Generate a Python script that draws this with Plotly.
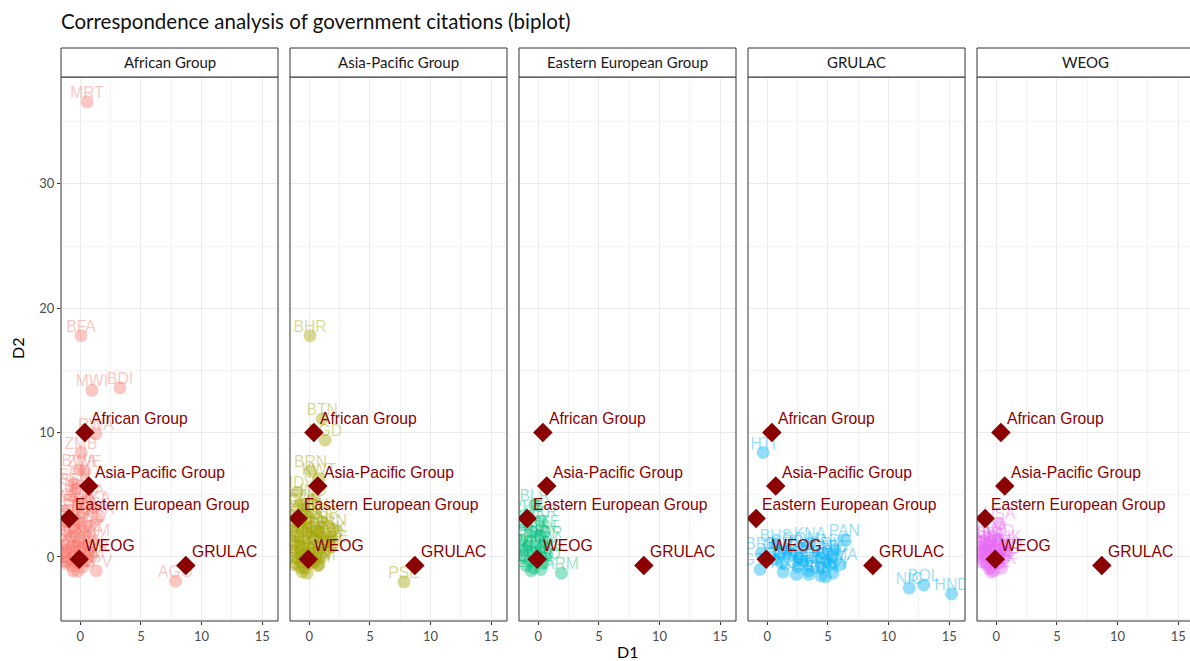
import plotly.graph_objects as go

TITLE = "Correspondence analysis of government citations (biplot)"

# Facet panels (regional groups) and their colours
PANELS = ["African Group", "Asia-Pacific Group", "Eastern European Group", "GRULAC", "WEOG"]
PANEL_COLORS = ["#F8766D", "#A3A500", "#00BF7D", "#00B0F6", "#E76BF3"]

# Column coordinates (cited groups), repeated in every panel
GROUP_LABELS = ["African Group", "Asia-Pacific Group", "Eastern European Group", "GRULAC", "WEOG"]
GROUP_D1 = [0.37, 0.69, -0.93, 8.70, -0.10]
GROUP_D2 = [10.00, 5.70, 3.10, -0.69, -0.19]

# Row coordinates (citing governments), one set per regional group
AFR_CODES = ["MRT", "BFA", "MWI", "BDI", "RWA", "ZMB", "BWA", "ZWE", "SLE", "SEN",
             "LBR", "NGA", "GHA", "UGA", "KEN", "TZA", "ETH", "CMR", "MLI", "NER",
             "TCD", "COD", "SDN", "MOZ", "MDG", "NAM", "ZAF", "LSO", "CIV", "TGO",
             "BEN", "GIN", "GMB", "EGY", "TUN", "MAR", "DZA", "LBY", "SOM", "DJI",
             "CAF", "GAB", "COG", "CPV", "AGO"]
AFR_D1 = [0.55, 0.05, 0.95, 3.27, 1.28, 0.05, -0.10, 0.35, -0.40, -0.50,
          -0.80, 0.60, -0.20, 1.10, -1.00, 0.30, -0.60, 1.40, -1.20, 0.00,
          0.80, -0.40, -1.10, 0.40, -0.70, 1.00, -0.20, -1.30, 0.20, -0.90,
          0.60, -0.50, -1.40, 0.10, -1.00, 0.90, -0.30, -1.20, 0.50, -0.70,
          0.20, -0.60, -0.20, 1.30, 7.85]
AFR_D2 = [36.60, 17.80, 13.40, 13.60, 9.90, 8.40, 7.00, 6.90, 5.50, 5.90,
          4.90, 4.60, 4.30, 4.00, 3.80, 3.60, 3.30, 3.10, 2.90, 2.70,
          2.50, 2.20, 2.00, 1.80, 1.60, 1.40, 1.20, 1.00, 0.80, 0.60,
          0.40, 0.20, 0.00, -0.10, -0.20, 0.10, -0.40, -0.50, -0.30, -0.70,
          -0.80, -1.10, -1.15, -1.10, -1.95]

ASP_CODES = ["BHR", "BTN", "BGD", "BRN", "KWT", "MDV", "FJI", "NPL", "IRN", "PAK",
             "ARE", "IND", "CHN", "IDN", "JPN", "KOR", "LKA", "MYS", "PHL", "THA",
             "VNM", "MMR", "LAO", "MNG", "KAZ", "UZB", "TJK", "KGZ", "TKM", "AFG",
             "IRQ", "JOR", "LBN", "SYR", "SAU", "QAT", "OMN", "YEM", "SGP", "TLS",
             "PNG", "WSM", "TON", "VUT", "SLB", "PLW", "NRU", "MHL", "FSM", "CYP",
             "PSE"]
ASP_D1 = [0.05, 1.05, 1.30, 0.10, 0.80, -1.00, -0.80, -1.30, 2.00, 1.80,
          1.90, 0.30, -0.40, 0.50, -0.20, 1.10, -0.90, 0.20, -0.60, 0.90,
          -1.10, 0.40, -0.30, 1.20, -0.80, 0.00, -1.30, 0.60, -0.50, 1.00,
          -1.00, 0.30, -0.70, 0.00, -1.30, 0.70, -0.40, -0.60, -0.20, -0.20,
          0.80, -1.20, 1.40, -0.60, 1.60, -1.40, 0.40, -0.10, 0.80, -0.80,
          7.80]
ASP_D2 = [17.80, 11.10, 9.40, 6.90, 6.30, 5.20, 4.20, 3.30, 2.20, 1.60,
          0.90, 4.60, 3.90, 3.50, 3.00, 2.80, 2.60, 2.40, 2.10, 1.90,
          1.70, 1.50, 1.30, 1.10, 0.90, 0.70, 0.50, 0.40, 0.20, 0.00,
          -0.10, -0.20, -0.40, -0.50, -0.60, -0.70, -0.90, -1.20, -1.30, 0.10,
          2.00, 1.20, 0.60, 3.40, 1.30, 2.20, -0.40, 1.90, -0.60, -0.80,
          -2.00]

EEG_CODES = ["BLR", "RUS", "UKR", "POL", "CZE", "SVK", "HUN", "ROU", "BGR", "SRB",
             "HRV", "SVN", "BIH", "MNE", "MKD", "ALB", "MDA", "GEO", "AZE", "LTU",
             "LVA", "EST", "ARM"]
EEG_D1 = [-0.30, -0.90, 0.20, -1.20, 0.50, -0.50, 0.10, -1.40, 0.60, -0.80,
          0.30, -1.10, -0.20, 0.70, -1.30, 0.00, -0.70, 0.40, -1.00, -0.40,
          0.20, -0.60, 1.90]
EEG_D2 = [4.20, 3.30, 2.90, 2.60, 2.10, 2.00, 1.70, 1.40, 1.20, 1.00,
          0.80, 0.60, 0.40, 0.20, 0.10, -0.10, -0.30, -0.50, -0.70, -0.90,
          -1.00, -1.10, -1.30]

GRU_CODES = ["HTI", "PAN", "KNA", "ARG", "BHS", "BRB", "GTM", "BRA", "MEX", "CHL",
             "COL", "PER", "VEN", "ECU", "URY", "PRY", "CUB", "DOM", "CRI", "SLV",
             "JAM", "TTO", "GUY", "SUR", "BLZ", "DMA", "GRD", "LCA", "VCT", "ATG",
             "NIC", "BOL", "HND"]
GRU_D1 = [-0.35, 6.35, 3.50, 5.60, 0.70, -0.50, -0.60, 1.20, 2.00, 2.50,
          3.00, 3.40, 4.00, 4.40, 4.80, 5.20, 1.60, 2.80, 4.60, 3.40,
          0.60, 1.30, 5.40, 4.40, 1.00, 6.00, 2.40, 2.60, 4.90, 5.40,
          11.70, 12.90, 15.20]
GRU_D2 = [8.40, 1.40, 1.10, 0.60, 1.00, 0.30, -1.00, -0.50, 0.20, -0.80,
          -0.30, -1.10, 0.00, -0.90, -1.60, -0.60, 0.50, 0.70, 0.30, -1.40,
          -0.20, -1.20, -1.30, -1.50, 0.30, -0.60, -1.40, -0.10, -0.30, 0.10,
          -2.50, -2.25, -2.97]

WEO_CODES = ["USA", "GBR", "NLD", "FRA", "DEU", "ITA", "ESP", "PRT", "CAN", "AUS",
             "NZL", "NOR", "SWE", "FIN", "DNK", "ISL", "IRL", "BEL", "LUX", "AUT",
             "CHE", "GRC", "MLT", "MCO", "AND", "LIE", "SMR", "ISR", "TUR"]
WEO_D1 = [0.25, -0.85, 0.20, -0.40, -1.20, 0.50, -0.70, 0.10, -1.00, 0.60,
          -0.30, -1.30, 0.30, -0.80, 0.70, -1.10, -0.10, -0.50, 0.40, -0.60,
          -0.20, 0.00, -0.60, -1.40, 0.80, -0.40, -0.70, 0.20, -0.90]
WEO_D2 = [2.70, 1.10, 1.40, 1.60, 0.80, 0.60, 0.40, 0.20, 0.00, -0.10,
          -0.20, -0.40, -0.50, -0.60, 0.90, 1.30, 0.60, -0.80, -0.90, -0.95,
          -1.10, -0.30, 1.00, 0.30, 0.30, -1.20, -0.20, 0.00, 0.50]

ROWS = [
    (AFR_CODES, AFR_D1, AFR_D2),
    (ASP_CODES, ASP_D1, ASP_D2),
    (EEG_CODES, EEG_D1, EEG_D2),
    (GRU_CODES, GRU_D1, GRU_D2),
    (WEO_CODES, WEO_D1, WEO_D2),
]

# ---- layout geometry (pixels) ----
W, H = 1190, 661
ML, MR, MT, MB = 61, 0, 48, 40
PLOT_W = W - ML - MR
PLOT_H = H - MT - MB
PANEL_W, PANEL_GAP, STRIP_H = 217, 12, 29
PX_PER_UNIT = 12.12
X_MIN = -1.6
Y_RANGE = [-5.15, 38.6]
PANEL_TOP = (PLOT_H - STRIP_H) / PLOT_H

TEXT_FONT = "Lato, 'Source Sans Pro', 'Noto Sans', sans-serif"
LABEL_FONT = "'Liberation Sans', Arial, sans-serif"
DARK_RED = "#8B0000"


def rgba(hex_color, alpha):
    h = hex_color.lstrip("#")
    r, g, b = int(h[0:2], 16), int(h[2:4], 16), int(h[4:6], 16)
    return f"rgba({r},{g},{b},{alpha})"


fig = go.Figure()
layout = {}
shapes = []
annotations = []

for i, panel in enumerate(PANELS):
    suf = "" if i == 0 else str(i + 1)
    xa, ya = "x" + suf, "y" + suf
    left_px = i * (PANEL_W + PANEL_GAP)
    right_px = min(left_px + PANEL_W, PLOT_W)
    visible_w = right_px - left_px
    x_max = X_MIN + visible_w / PX_PER_UNIT

    layout["xaxis" + suf] = dict(
        domain=[left_px / PLOT_W, right_px / PLOT_W],
        anchor=ya, range=[X_MIN, x_max],
        tick0=0, dtick=5, ticks="outside", ticklen=3, tickwidth=1,
        tickcolor="#333333", showline=False, zeroline=False,
        showgrid=True, gridcolor="#EBEBEB", gridwidth=1.1,
        minor=dict(tick0=0, dtick=2.5, showgrid=True, gridcolor="#F3F3F3",
                   gridwidth=0.8, ticks=""),
        tickfont=dict(family=TEXT_FONT, size=13, color="#4D4D4D"),
        fixedrange=True,
    )
    layout["yaxis" + suf] = dict(
        domain=[0, PANEL_TOP], anchor=xa, range=Y_RANGE,
        tick0=0, dtick=10, ticks="outside" if i == 0 else "",
        ticklen=3, tickwidth=1, tickcolor="#333333",
        showticklabels=(i == 0), showline=False, zeroline=False,
        showgrid=True, gridcolor="#EBEBEB", gridwidth=1.1,
        minor=dict(tick0=0, dtick=5, showgrid=True, gridcolor="#F3F3F3",
                   gridwidth=0.8, ticks=""),
        tickfont=dict(family=TEXT_FONT, size=13, color="#4D4D4D"),
        fixedrange=True,
    )

    codes, d1, d2 = ROWS[i]
    color = PANEL_COLORS[i]

    # citing governments
    fig.add_trace(go.Scatter(
        x=d1, y=d2, mode="markers", xaxis=xa, yaxis=ya,
        marker=dict(size=13, color=rgba(color, 0.42), line=dict(width=0)),
        cliponaxis=True, showlegend=False, hoverinfo="skip",
    ))
    fig.add_trace(go.Scatter(
        x=d1, y=d2, mode="text", text=codes, textposition="top center",
        xaxis=xa, yaxis=ya,
        textfont=dict(family=LABEL_FONT, size=15.7, color=rgba(color, 0.42)),
        cliponaxis=True, showlegend=False, hoverinfo="skip",
    ))
    # cited groups
    fig.add_trace(go.Scatter(
        x=GROUP_D1, y=GROUP_D2, mode="markers", xaxis=xa, yaxis=ya,
        marker=dict(symbol="diamond", size=15, color=DARK_RED, line=dict(width=0)),
        cliponaxis=True, showlegend=False, hoverinfo="skip",
    ))
    for lab, gx, gy in zip(GROUP_LABELS, GROUP_D1, GROUP_D2):
        annotations.append(dict(
            x=gx, y=gy, xref=xa, yref=ya, text=lab, showarrow=False,
            xanchor="left", yanchor="middle", xshift=4, yshift=14,
            font=dict(family=LABEL_FONT, size=15.7, color=DARK_RED),
        ))

    # panel border and facet strip
    full_w = PANEL_W / visible_w
    shapes.append(dict(
        type="rect", xref=xa + " domain", yref=ya + " domain",
        x0=0, x1=full_w, y0=0, y1=1, line=dict(color="#333333", width=1),
        fillcolor="rgba(0,0,0,0)", layer="above",
    ))
    shapes.append(dict(
        type="rect", xref=xa + " domain", yref="paper",
        x0=0, x1=full_w, y0=PANEL_TOP, y1=1, line=dict(color="#333333", width=1),
        fillcolor="white", layer="above",
    ))
    annotations.append(dict(
        x=full_w / 2, y=(PANEL_TOP + 1) / 2, xref=xa + " domain", yref="paper",
        text=panel, showarrow=False, xanchor="center", yanchor="middle",
        font=dict(family=TEXT_FONT, size=15, color="#1A1A1A"),
    ))

# axis titles
total_w = 4 * (PANEL_W + PANEL_GAP) + PANEL_W
annotations.append(dict(
    x=(total_w / 2) / PLOT_W, y=0, xref="paper", yref="paper",
    text="D1", showarrow=False, xanchor="center", yanchor="middle",
    yshift=-(651 - (H - MB)),
    font=dict(family=TEXT_FONT, size=16, color="#000000"),
))
annotations.append(dict(
    x=0, y=PANEL_TOP / 2, xref="paper", yref="paper", text="D2",
    showarrow=False, xanchor="center", yanchor="middle", xshift=-(ML - 17),
    textangle=-90, font=dict(family=TEXT_FONT, size=16, color="#000000"),
))

fig.update_layout(
    width=W, height=H,
    margin=dict(l=ML, r=MR, t=MT, b=MB, pad=0),
    paper_bgcolor="white", plot_bgcolor="white",
    title=dict(text=TITLE, x=ML / W, xanchor="left", xref="container",
               y=1 - 22 / H, yanchor="middle", yref="container",
               font=dict(family=TEXT_FONT, size=20.5, color="#111111")),
    shapes=shapes, annotations=annotations,
    showlegend=False, hovermode=False,
    **layout,
)

fig.write_html("out.html", config={"displayModeBar": False})
